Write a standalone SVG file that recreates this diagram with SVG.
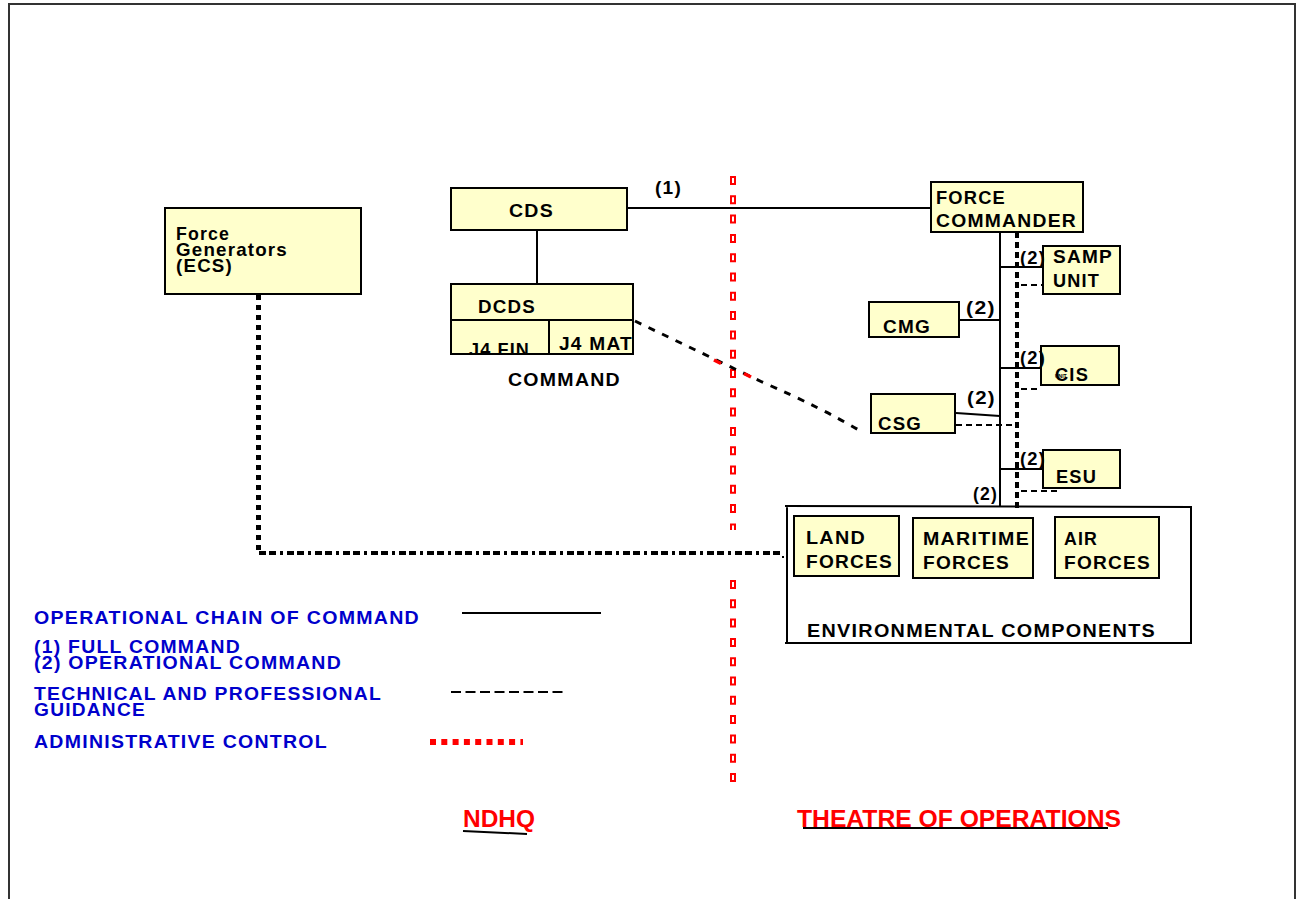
<svg xmlns="http://www.w3.org/2000/svg" width="1296" height="899" viewBox="0 0 1296 899">
  <style>
    text { font-family: "Liberation Sans", Arial, sans-serif; font-weight: bold; font-size: 18.5px; letter-spacing: 1.2px; fill: #000; }
    .box { fill: #FFFFCC; stroke: #000; stroke-width: 2; }
    .legend { fill: #0000CC; }
    .area { fill: #FF0000; font-size: 24px; letter-spacing: 0; }
    .cmd { fill: none; stroke: #000; stroke-width: 2; }
    .tech { fill: none; stroke: #000; stroke-width: 2; stroke-dasharray: 6 4; }
    .techbig { fill: none; stroke: #000; stroke-width: 3; stroke-dasharray: 7 8; }
    .admin { fill: none; stroke: #000; stroke-width: 5; stroke-dasharray: 5 5; }
  </style>
  <defs>
    <clipPath id="clipFin"><rect x="452" y="321" width="96" height="33"/></clipPath>
    <clipPath id="clipMat"><rect x="550" y="321" width="83" height="33"/></clipPath>
  </defs>

  <rect width="1296" height="899" fill="#fff"/>
  <!-- page frame -->
  <path d="M9,904 V4 H1295 V904" fill="none" stroke="#333" stroke-width="2"/>

  <!-- boundary between NDHQ and theatre -->
  <g id="boundary">
    <line x1="733" y1="176" x2="733" y2="530" stroke="#FF0000" stroke-width="6" stroke-dasharray="9 10.3"/>
    <line x1="733" y1="178" x2="733" y2="530" stroke="#fff" stroke-width="2" stroke-dasharray="5 14.3"/>
    <line x1="733" y1="580" x2="733" y2="785" stroke="#FF0000" stroke-width="6" stroke-dasharray="9 10.3"/>
    <line x1="733" y1="582" x2="733" y2="785" stroke="#fff" stroke-width="2" stroke-dasharray="5 14.3"/>
  </g>

  <g id="connectors">
    <!-- operational chain of command -->
    <line class="cmd" x1="537" y1="230" x2="537" y2="284"/>
    <line class="cmd" x1="627" y1="208" x2="931" y2="208"/>
    <line class="cmd" x1="1000" y1="232" x2="1000" y2="507"/>
    <line class="cmd" x1="1000" y1="267" x2="1043" y2="267"/>
    <line class="cmd" x1="959" y1="320" x2="1000" y2="320"/>
    <line class="cmd" x1="1000" y1="368" x2="1041" y2="368"/>
    <line class="cmd" x1="956" y1="413" x2="1000" y2="416"/>
    <line class="cmd" x1="1000" y1="469" x2="1043" y2="469"/>
    <!-- technical and professional guidance -->
    <line x1="1017" y1="232" x2="1017" y2="510" stroke="#000" stroke-width="4" stroke-dasharray="6 4"/>
    <line class="tech" x1="1021" y1="285" x2="1043" y2="285" stroke-dasharray="7 6"/>
    <line class="tech" x1="1021" y1="389" x2="1041" y2="389" stroke-dasharray="7 6"/>
    <line class="tech" x1="956" y1="425" x2="1017" y2="425"/>
    <line class="tech" x1="1021" y1="491" x2="1058" y2="491" stroke-dasharray="7 7"/>
    <path class="techbig" d="M635,321 L762,382 Q822,408 862,432"/>
    <line x1="714" y1="360" x2="721" y2="363.5" stroke="#FF0000" stroke-width="3.5"/>
    <line x1="744" y1="373.5" x2="751" y2="377" stroke="#FF0000" stroke-width="3.5"/>
    <!-- administrative control -->
    <line class="admin" x1="258.5" y1="295" x2="258.5" y2="550"/>
    <line x1="259" y1="553" x2="782" y2="553" stroke="#000" stroke-width="4" stroke-dasharray="7 3 7 4 3 4"/>
    <rect x="782" y="556" width="2" height="2" fill="#000"/>
  </g>

  <g id="force-generators">
    <rect class="box" x="165" y="208" width="196" height="86"/>
    <text x="176" y="240" textLength="54" lengthAdjust="spacingAndGlyphs">Force</text>
    <text x="176" y="256" textLength="112" lengthAdjust="spacingAndGlyphs">Generators</text>
    <text x="176" y="272" textLength="57" lengthAdjust="spacingAndGlyphs">(ECS)</text>
  </g>

  <g id="cds">
    <rect class="box" x="451" y="188" width="176" height="42"/>
    <text x="509" y="217" textLength="45" lengthAdjust="spacingAndGlyphs">CDS</text>
  </g>

  <g id="dcds">
    <rect class="box" x="451" y="284" width="182" height="70"/>
    <line x1="451" y1="320" x2="633" y2="320" stroke="#000" stroke-width="2"/>
    <line x1="549" y1="320" x2="549" y2="354" stroke="#000" stroke-width="2"/>
    <text x="478" y="313" textLength="58" lengthAdjust="spacingAndGlyphs">DCDS</text>
    <text x="469" y="356" textLength="61" lengthAdjust="spacingAndGlyphs" clip-path="url(#clipFin)">J4 FIN</text>
    <text x="559" y="350" textLength="74" lengthAdjust="spacingAndGlyphs" clip-path="url(#clipMat)">J4 MAT</text>
    <rect x="451" y="284" width="182" height="70" fill="none" stroke="#000" stroke-width="2"/>
    <text x="508" y="386" textLength="113" lengthAdjust="spacingAndGlyphs">COMMAND</text>
  </g>

  <g id="force-commander">
    <rect class="box" x="931" y="182" width="152" height="50"/>
    <text x="936" y="204" textLength="70" lengthAdjust="spacingAndGlyphs">FORCE</text>
    <text x="936" y="227" textLength="141" lengthAdjust="spacingAndGlyphs">COMMANDER</text>
  </g>

  <g id="samp-unit">
    <rect class="box" x="1043" y="246" width="77" height="48"/>
    <text x="1053" y="263" textLength="60" lengthAdjust="spacingAndGlyphs">SAMP</text>
    <text x="1053" y="287" textLength="47" lengthAdjust="spacingAndGlyphs">UNIT</text>
  </g>

  <g id="cmg">
    <rect class="box" x="869" y="302" width="90" height="35"/>
    <text x="883" y="333" textLength="48" lengthAdjust="spacingAndGlyphs">CMG</text>
  </g>

  <g id="cis">
    <rect class="box" x="1041" y="346" width="78" height="39"/>
    <text x="1055" y="381" textLength="34" lengthAdjust="spacingAndGlyphs">CIS</text>
    <text x="1055" y="378" style="font-size:5px;letter-spacing:0">UNIT</text>
  </g>

  <g id="csg">
    <rect class="box" x="871" y="394" width="84" height="39"/>
    <text x="878" y="430" textLength="44" lengthAdjust="spacingAndGlyphs">CSG</text>
  </g>

  <g id="esu">
    <rect class="box" x="1043" y="450" width="77" height="38"/>
    <text x="1056" y="483" textLength="41" lengthAdjust="spacingAndGlyphs">ESU</text>
  </g>

  <g id="environmental-components">
    <path d="M785,506 L1192,507 M1191,507 V643 M787,506 V643 M785,643 H1192" fill="none" stroke="#000" stroke-width="2"/>
    <text x="807" y="637" textLength="349" lengthAdjust="spacingAndGlyphs">ENVIRONMENTAL COMPONENTS</text>
  </g>

  <g id="land-forces">
    <rect class="box" x="794" y="516" width="105" height="60"/>
    <text x="806" y="544" textLength="60" lengthAdjust="spacingAndGlyphs">LAND</text>
    <text x="806" y="568" textLength="87" lengthAdjust="spacingAndGlyphs">FORCES</text>
  </g>

  <g id="maritime-forces">
    <rect class="box" x="913" y="518" width="120" height="60"/>
    <text x="923" y="545" textLength="107" lengthAdjust="spacingAndGlyphs">MARITIME</text>
    <text x="923" y="569" textLength="87" lengthAdjust="spacingAndGlyphs">FORCES</text>
  </g>

  <g id="air-forces">
    <rect class="box" x="1055" y="517" width="104" height="61"/>
    <text x="1064" y="545" textLength="34" lengthAdjust="spacingAndGlyphs">AIR</text>
    <text x="1064" y="569" textLength="87" lengthAdjust="spacingAndGlyphs">FORCES</text>
  </g>

  <!-- command relationship labels, drawn over the box edges -->
  <g id="command-labels">
    <text x="655" y="194" textLength="27" lengthAdjust="spacingAndGlyphs">(1)</text>
    <text x="1020" y="264" textLength="26" lengthAdjust="spacingAndGlyphs">(2)</text>
    <text x="966" y="314" textLength="30" lengthAdjust="spacingAndGlyphs">(2)</text>
    <text x="1020" y="364" textLength="26" lengthAdjust="spacingAndGlyphs">(2)</text>
    <text x="967" y="404" textLength="29" lengthAdjust="spacingAndGlyphs">(2)</text>
    <text x="1020" y="465" textLength="26" lengthAdjust="spacingAndGlyphs">(2)</text>
    <text x="973" y="500" textLength="25" lengthAdjust="spacingAndGlyphs">(2)</text>
  </g>

  <g id="legend">
    <text class="legend" x="34" y="624" textLength="386" lengthAdjust="spacingAndGlyphs">OPERATIONAL CHAIN OF COMMAND</text>
    <line x1="462" y1="613" x2="601" y2="613" stroke="#000" stroke-width="2"/>
    <text class="legend" x="34" y="653" textLength="207" lengthAdjust="spacingAndGlyphs">(1) FULL COMMAND</text>
    <text class="legend" x="34" y="669" textLength="308" lengthAdjust="spacingAndGlyphs">(2) OPERATIONAL COMMAND</text>
    <text class="legend" x="34" y="700" textLength="348" lengthAdjust="spacingAndGlyphs">TECHNICAL AND PROFESSIONAL</text>
    <text class="legend" x="34" y="716" textLength="112" lengthAdjust="spacingAndGlyphs">GUIDANCE</text>
    <line x1="451" y1="692" x2="566" y2="692" stroke="#000" stroke-width="2" stroke-dasharray="10 4.5"/>
    <text class="legend" x="34" y="748" textLength="294" lengthAdjust="spacingAndGlyphs">ADMINISTRATIVE CONTROL</text>
    <line x1="430" y1="742" x2="523" y2="742" stroke="#FF0000" stroke-width="6" stroke-dasharray="6 5.3"/>
  </g>

  <g id="areas">
    <text class="area" x="463" y="827" textLength="72" lengthAdjust="spacingAndGlyphs">NDHQ</text>
    <line x1="463" y1="831" x2="527" y2="834" stroke="#000" stroke-width="2"/>
    <text class="area" x="797" y="827" textLength="324" lengthAdjust="spacingAndGlyphs">THEATRE OF OPERATIONS</text>
    <line x1="803" y1="828" x2="1108" y2="828" stroke="#000" stroke-width="2"/>
  </g>
</svg>
